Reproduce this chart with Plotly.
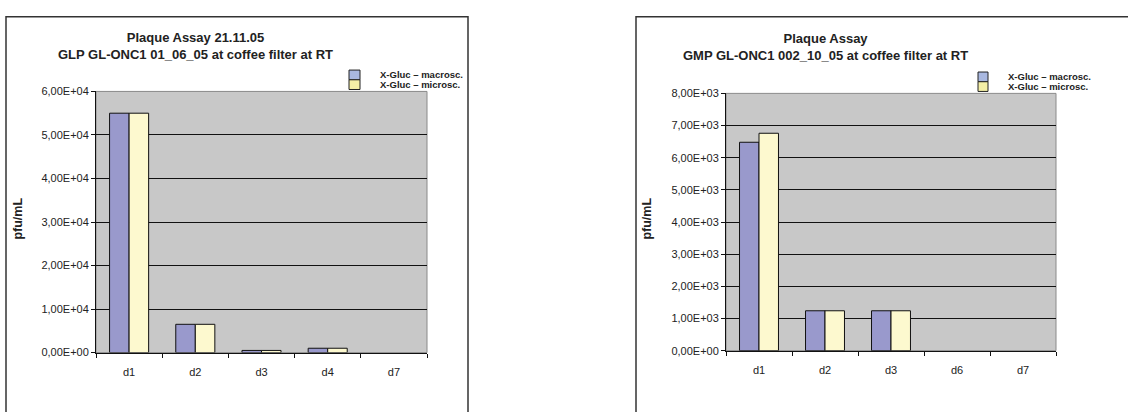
import plotly.graph_objects as go

W, H = 1128, 412

# ---- data ----
left_categories = ["d1", "d2", "d3", "d4", "d7"]
left_macro = [55000, 6500, 500, 1000, 0]
left_micro = [55000, 6500, 500, 1000, 0]
left_ticks = [0, 10000, 20000, 30000, 40000, 50000, 60000]

right_categories = ["d1", "d2", "d3", "d6", "d7"]
right_macro = [6480, 1240, 1240, 0, 0]
right_micro = [6760, 1240, 1240, 0, 0]
right_ticks = [0, 1000, 2000, 3000, 4000, 5000, 6000, 7000, 8000]

series_names = ["X-Gluc – macrosc.", "X-Gluc – microsc."]
left_title = "Plaque Assay 21.11.05<br>GLP GL-ONC1 01_06_05 at coffee filter at RT"
right_title = "Plaque Assay<br>GMP GL-ONC1 002_10_05 at coffee filter at RT"
y_title = "pfu/mL"

# ---- style ----
MACRO = "#9999cc"
MICRO = "#fdf9cf"
MACRO_LEG = "#a9b8e0"
MICRO_LEG = "#f4efa6"
PLOT_BG = "#c8c8c8"
FONT = "Liberation Sans, Arial, sans-serif"


def px(x):
    return x / W


def py(y):
    return 1 - y / H


def fmt(v):
    return f"{v:.2E}".replace(".", ",")


fig = go.Figure()

panels = [
    dict(cats=left_categories, macro=left_macro, micro=left_micro, ticks=left_ticks,
         xa="x", ya="y", xdom=(96, 427), ydom=(88, 357)),
    dict(cats=right_categories, macro=right_macro, micro=right_micro, ticks=right_ticks,
         xa="x2", ya="y2", xdom=(726, 1056), ydom=(90, 355)),
]

for p in panels:
    for vals, col in ((p["macro"], MACRO), (p["micro"], MICRO)):
        fig.add_trace(go.Bar(
            x=p["cats"], y=vals, xaxis=p["xa"], yaxis=p["ya"],
            marker=dict(color=col,
                        line=dict(color="#111111",
                                  width=[1 if v else 0 for v in vals])),
            showlegend=False, hoverinfo="x+y",
        ))

axis_common = dict(
    showline=True, linecolor="#111111", linewidth=1,
    ticks="outside", ticklen=4, tickcolor="#111111",
    tickfont=dict(family=FONT, size=11, color="#222222"),
    zeroline=False,
)

for i, p in enumerate(panels):
    sfx = "" if i == 0 else str(i + 1)
    fig.update_layout(**{
        f"xaxis{sfx}": dict(
            domain=[px(p["xdom"][0]), px(p["xdom"][1])],
            anchor=p["ya"], type="category", tickson="boundaries",
            showgrid=False, ticklabelstandoff=9, **axis_common,
        ),
        f"yaxis{sfx}": dict(
            domain=[py(p["ydom"][1]), py(p["ydom"][0])],
            anchor=p["xa"], range=[0, p["ticks"][-1]],
            tickvals=p["ticks"], ticktext=[fmt(v) for v in p["ticks"]],
            showgrid=True, gridcolor="#111111", gridwidth=1,
            **axis_common,
        ),
    })

shapes = []
# outer chart borders
shapes.append(dict(type="rect", xref="paper", yref="paper",
                   x0=px(6), x1=px(468), y0=py(430), y1=py(11),
                   line=dict(color="#333333", width=1.5), layer="below"))
shapes.append(dict(type="rect", xref="paper", yref="paper",
                   x0=px(636), x1=px(1140), y0=py(430), y1=py(11),
                   line=dict(color="#333333", width=1.5), layer="below"))
# plot area outlines (gray top/right)
for p in panels:
    shapes.append(dict(type="rect", xref="paper", yref="paper",
                       x0=px(p["xdom"][0]), x1=px(p["xdom"][1]),
                       y0=py(p["ydom"][1]), y1=py(p["ydom"][0]),
                       line=dict(color="#8a8a8a", width=1), fillcolor=PLOT_BG,
                       layer="below"))

annotations = []
legend_specs = [
    dict(sx0=349, sx1=360, sy=(66, 76, 86), tx=378, ty=(71, 81)),
    dict(sx0=978, sx1=988, sy=(68, 78, 88), tx=1006, ty=(72.5, 83)),
]
for lg in legend_specs:
    for j, (name, col) in enumerate(zip(series_names, (MACRO_LEG, MICRO_LEG))):
        shapes.append(dict(type="rect", xref="paper", yref="paper",
                           x0=px(lg["sx0"]), x1=px(lg["sx1"]),
                           y0=py(lg["sy"][j + 1]), y1=py(lg["sy"][j]),
                           fillcolor=col, line=dict(color="#222222", width=1)))
        annotations.append(dict(text=f"<b>{name}</b>", xref="paper", yref="paper",
                                x=px(lg["tx"]), y=py(lg["ty"][j]), xanchor="left",
                                yanchor="middle", showarrow=False,
                                font=dict(family=FONT, size=9.5, color="#222222")))

for title, cx, cy in ((left_title, 195, 41), (right_title, 825, 42)):
    annotations.append(dict(text=f"<b>{title}</b>", xref="paper", yref="paper",
                            x=px(cx), y=py(cy), xanchor="center", yanchor="middle",
                            showarrow=False,
                            font=dict(family=FONT, size=13, color="#222222")))

for cx in (18, 647):
    annotations.append(dict(text=f"<b>{y_title}</b>", xref="paper", yref="paper",
                            x=px(cx), y=py(219), xanchor="center", yanchor="middle",
                            textangle=-90, showarrow=False,
                            font=dict(family=FONT, size=12.5, color="#222222")))

fig.update_layout(
    width=W, height=H,
    margin=dict(l=0, r=0, t=0, b=0),
    paper_bgcolor="white", plot_bgcolor="rgba(0,0,0,0)",
    barmode="group", bargap=0.41, bargroupgap=0,
    shapes=shapes, annotations=annotations,
    font=dict(family=FONT),
)

fig.write_html("out.html", config={"displayModeBar": False},
               post_script="document.body.style.margin='0';document.body.style.overflow='hidden';")
